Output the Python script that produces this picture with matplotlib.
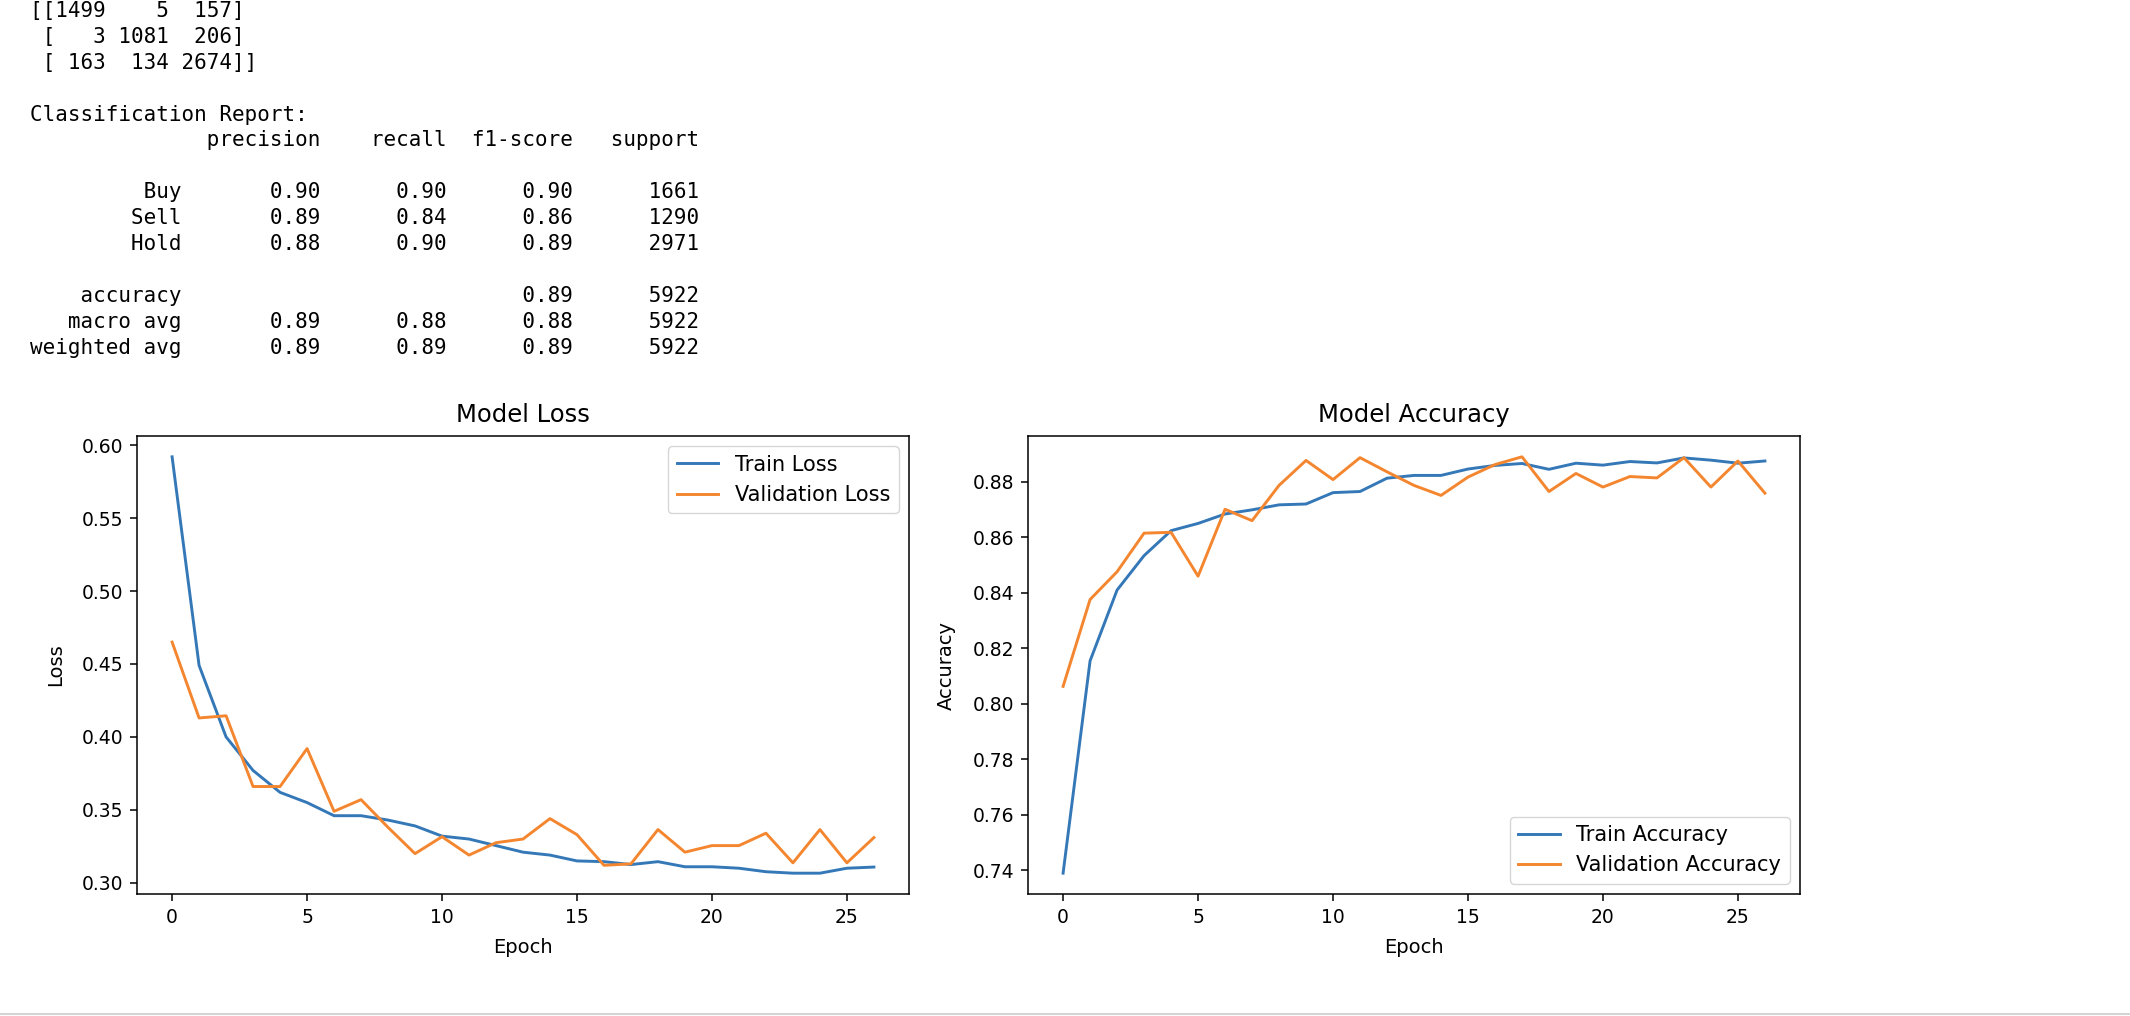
import numpy as np
import matplotlib.pyplot as plt
from matplotlib.lines import Line2D

# confusion matrix + classification report numbers
conf_mat = np.array([[1499, 5, 157],
                     [3, 1081, 206],
                     [163, 134, 2674]])
class_names = ["Buy", "Sell", "Hold"]
precision = [0.90, 0.89, 0.88]
recall = [0.90, 0.84, 0.90]
f1 = [0.90, 0.86, 0.89]
support = [1661, 1290, 2971]
accuracy = 0.89
macro_avg = [0.89, 0.88, 0.88]
weighted_avg = [0.89, 0.89, 0.89]
total = 5922

# training history
train_loss = [0.592, 0.449, 0.400, 0.377, 0.362, 0.355, 0.346, 0.346, 0.343,
              0.339, 0.332, 0.330, 0.3255, 0.321, 0.319, 0.315, 0.3145, 0.3125,
              0.3145, 0.311, 0.311, 0.310, 0.3076, 0.3066, 0.3066, 0.310, 0.3108]
val_loss = [0.465, 0.413, 0.4145, 0.366, 0.366, 0.392, 0.349, 0.357, 0.338,
            0.320, 0.3316, 0.319, 0.3275, 0.330, 0.344, 0.333, 0.312, 0.313,
            0.3365, 0.321, 0.3255, 0.3255, 0.334, 0.3137, 0.3365, 0.3137, 0.331]
train_acc = [0.739, 0.8155, 0.841, 0.8534, 0.8624, 0.865, 0.8684, 0.8699, 0.8717,
             0.872, 0.8761, 0.8765, 0.8813, 0.8823, 0.8823, 0.8846, 0.8859, 0.8866,
             0.8845, 0.8867, 0.886, 0.8873, 0.8868, 0.8886, 0.8878, 0.8867, 0.8875]
val_acc = [0.8063, 0.8376, 0.8476, 0.8615, 0.8618, 0.846, 0.8701, 0.866, 0.8787,
           0.8877, 0.8808, 0.8887, 0.8836, 0.8787, 0.8751, 0.8817, 0.8862, 0.889,
           0.8765, 0.883, 0.8781, 0.8819, 0.8814, 0.8887, 0.8781, 0.8875, 0.8759]


def report_lines():
    w = 12
    lines = ["Classification Report:"]
    lines.append("{:>{w}s} ".format("", w=w) +
                 "".join(" {:>9}".format(h) for h in ["precision", "recall", "f1-score", "support"]))
    lines.append("")
    for i, name in enumerate(class_names):
        lines.append("{:>{w}s} ".format(name, w=w) +
                     " {:>9.2f} {:>9.2f} {:>9.2f} {:>9}".format(precision[i], recall[i], f1[i], support[i]))
    lines.append("")
    lines.append("{:>{w}s} ".format("accuracy", w=w) +
                 " {:>9} {:>9} {:>9.2f} {:>9}".format("", "", accuracy, total))
    lines.append("{:>{w}s} ".format("macro avg", w=w) +
                 " {:>9.2f} {:>9.2f} {:>9.2f} {:>9}".format(*macro_avg, total))
    lines.append("{:>{w}s} ".format("weighted avg", w=w) +
                 " {:>9.2f} {:>9.2f} {:>9.2f} {:>9}".format(*weighted_avg, total))
    return lines


W, H = 2130, 1016
fig = plt.figure(figsize=(W / 100, H / 100), dpi=100)

# printed output above the plots
text_lines = np.array2string(conf_mat).split("\n") + [""] + report_lines()
for i, line in enumerate(text_lines):
    y = 11 + 25.9 * i
    fig.text(30 / W, 1 - y / H, line, family="DejaVu Sans Mono", fontsize=15,
             va="center", ha="left", color="black")

fs = 13.5
blue, orange = "#3478b8", "#f4862f"
epochs = np.arange(len(train_loss))

ax1 = fig.add_axes([137 / W, (H - 894) / H, 772 / W, 458 / H])
ax2 = fig.add_axes([1028 / W, (H - 894) / H, 772 / W, 458 / H])

ax1.plot(epochs, train_loss, label="Train Loss", lw=2.1, color=blue)
ax1.plot(epochs, val_loss, label="Validation Loss", lw=2.1, color=orange)
ax1.set_title("Model Loss", fontsize=17.5, pad=10)
ax1.set_xlabel("Epoch", fontsize=14, labelpad=8)
ax1.set_ylabel("Loss", fontsize=14, labelpad=12)
ax1.legend(loc="upper right", fontsize=15)

ax2.plot(epochs, train_acc, label="Train Accuracy", lw=2.1, color=blue)
ax2.plot(epochs, val_acc, label="Validation Accuracy", lw=2.1, color=orange)
ax2.set_title("Model Accuracy", fontsize=17.5, pad=10)
ax2.set_xlabel("Epoch", fontsize=14, labelpad=8)
ax2.set_ylabel("Accuracy", fontsize=14, labelpad=12)
ax2.legend(loc="lower right", fontsize=15)

for ax in (ax1, ax2):
    ax.tick_params(labelsize=fs, length=4.9, width=1.1, pad=4.9)
    for s in ax.spines.values():
        s.set_linewidth(1.1)

# thin grey rule at the bottom of the notebook cell
fig.add_artist(Line2D([0, 1], [1 - 1013.5 / H] * 2, transform=fig.transFigure,
                      color="#d4d4d4", lw=1.5))

fig.savefig("out.png", dpi=100)
